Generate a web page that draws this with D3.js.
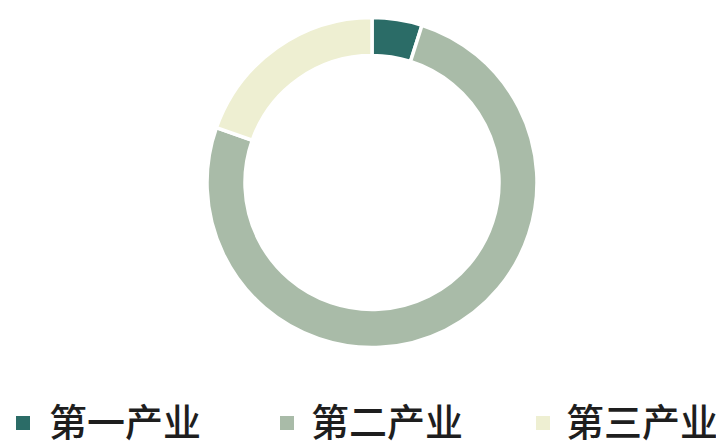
<!DOCTYPE html>
<html>
<head>
<meta charset="utf-8">
<script src="https://cdn.jsdelivr.net/npm/d3@7"></script>
<style>
html,body{margin:0;padding:0;background:#fff;}
svg{display:block;}
</style>
</head>
<body>
<svg id="chart" width="716" height="443"></svg>
<script>
const categories = ["第一产业", "第二产业", "第三产业"];
const values = [4.9, 75.5, 19.6];
const colors = ["#2b6c67", "#a9bba8", "#eeefd2"];

const svg = d3.select("#chart");
const cx = 372, cy = 182.5, rOuter = 165, rInner = 127;

const pie = d3.pie().sort(null).value(d => d.v);
const data = pie(categories.map((c, i) => ({c, v: values[i], col: colors[i]})));
const arc = d3.arc().innerRadius(rInner).outerRadius(rOuter);

svg.append("g").attr("transform", `translate(${cx},${cy})`)
  .selectAll("path").data(data).join("path")
  .attr("d", arc)
  .attr("fill", d => d.data.col)
  .attr("stroke", "#fff")
  .attr("stroke-width", 3.5);

const markerX = [16, 280, 536];
const textX = [49, 311, 566];
const lg = svg.append("g");
categories.forEach((c, i) => {
  lg.append("rect").attr("x", markerX[i]).attr("y", 416).attr("width", 14).attr("height", 14).attr("fill", colors[i]);
  lg.append("text").attr("x", textX[i]).attr("y", 436)
    .attr("font-family", "'Noto Sans CJK SC', sans-serif")
    .attr("font-weight", 500)
    .attr("font-size", 38).attr("fill", "#1e1e1e").text(c);
});
</script>
</body>
</html>
